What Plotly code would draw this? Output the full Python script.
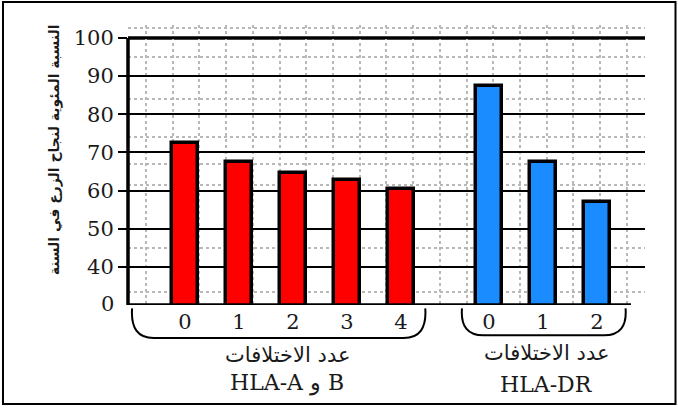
import plotly.graph_objects as go

# ---- data ----
hla_ab_labels = ["0", "1", "2", "3", "4"]
hla_ab_values = [72.5, 67.5, 64.5, 62.8, 60.5]
hla_dr_labels = ["0", "1", "2"]
hla_dr_values = [87.5, 67.6, 57.0]
y_tick_values = [40, 50, 60, 70, 80, 90, 100]
y_axis_floor_label = "0"
group_caption = "عدد الاختلافات"
group_ab_name = "HLA-A و B"
group_dr_name = "HLA-DR"
y_title = "النسبة المئوية لنجاح الزرع في السنة"

# ---- layout helpers ----
group_gap = 1.63
ab_x = [i for i in range(len(hla_ab_values))]
dr_x = [len(hla_ab_values) - 1 + group_gap + i for i in range(len(hla_dr_values))]
Y_FLOOR = 30          # axis break: "0" is drawn where 30 would be
Y_TOP = 103.4
X_MIN, X_MAX = -1.056, 8.52

serif = "DejaVu Serif"
arab = "DejaVu Sans"
ink = "#1a1a1a"

fig = go.Figure()
fig.add_trace(go.Bar(x=ab_x, y=hla_ab_values, width=0.48,
                     marker=dict(color="#ff0000", line=dict(color="black", width=3.5)),
                     showlegend=False, hoverinfo="skip"))
fig.add_trace(go.Bar(x=dr_x, y=hla_dr_values, width=0.48,
                     marker=dict(color="#1a8cff", line=dict(color="black", width=3.5)),
                     showlegend=False, hoverinfo="skip"))

shapes = []
shapes.append(dict(type="line", xref="paper", yref="y", x0=0, x1=0, y0=Y_FLOOR, y1=100,
                   line=dict(color="black", width=3.5), layer="above"))
shapes.append(dict(type="line", xref="x", yref="y", x0=X_MIN, x1=dr_x[-1] + 0.63,
                   y0=Y_FLOOR, y1=Y_FLOOR, line=dict(color="black", width=3.5), layer="above"))
shapes.append(dict(type="line", xref="paper", yref="y", x0=0, x1=1, y0=100, y1=100,
                   line=dict(color="black", width=3.5), layer="below"))

def bracket(xa, xb, yt, yb, r):
    return (f"M {xa},{yt} Q {xa-0.04},{yb} {xa+r},{yb} "
            f"L {xb-r},{yb} Q {xb+0.04},{yb} {xb},{yt}")

shapes.append(dict(type="path", xref="x", yref="paper",
                   path=bracket(ab_x[0] - 0.98, ab_x[-1] + 0.45, -0.012, -0.118, 0.4),
                   line=dict(color="black", width=2)))
shapes.append(dict(type="path", xref="x", yref="paper",
                   path=bracket(dr_x[0] - 0.5, dr_x[-1] + 0.53, -0.012, -0.108, 0.4),
                   line=dict(color="black", width=2)))
shapes.append(dict(type="rect", xref="paper", yref="paper",
                   x0=-0.2418, x1=1.059, y0=-0.3536, y1=1.082,
                   line=dict(color="black", width=2)))

annotations = [
    dict(x=0, xref="paper", y=Y_FLOOR, yref="y", text=y_axis_floor_label, showarrow=False,
         xanchor="right", yanchor="middle", xshift=-12, yshift=1,
         font=dict(family=serif, size=21, color=ink)),
    dict(x=-0.162, xref="paper", y=0.555, yref="paper", text=f"<b>{y_title}</b>",
         textangle=-90, showarrow=False, font=dict(family=arab, size=14, color=ink)),
    dict(x=1.89, xref="x", y=-0.175, yref="paper", text=group_caption, showarrow=False,
         yanchor="middle", yshift=-1,
         font=dict(family=arab, size=21, color=ink)),
    dict(x=1.89, xref="x", y=-0.272, yref="paper", text=group_ab_name, showarrow=False,
         yanchor="middle", yshift=-2,
         font=dict(family=serif, size=22, color=ink)),
    dict(x=6.70, xref="x", y=-0.168, yref="paper", text=group_caption, showarrow=False,
         yanchor="middle", yshift=-1,
         font=dict(family=arab, size=21, color=ink)),
    dict(x=6.70, xref="x", y=-0.275, yref="paper", text=group_dr_name, showarrow=False,
         yanchor="middle", yshift=-2,
         font=dict(family=serif, size=22, color=ink)),
]

fig.update_layout(
    width=678, height=410,
    margin=dict(l=128, r=33, t=25, b=105),
    paper_bgcolor="white", plot_bgcolor="white",
    shapes=shapes, annotations=annotations,
    bargap=0,
    xaxis=dict(range=[X_MIN, X_MAX], tickvals=ab_x + dr_x, ticktext=hla_ab_labels + hla_dr_labels,
               showgrid=False, zeroline=False, showline=False, ticks="",
               ticklabelstandoff=2,
               tickfont=dict(family=serif, size=21, color=ink),
               minor=dict(tick0=-0.722, dtick=0.4947, showgrid=True, griddash="dot",
                          gridcolor="#b8b8b8", gridwidth=2, ticks="")),
    yaxis=dict(range=[Y_FLOOR, Y_TOP], tickvals=y_tick_values,
               ticktext=[str(v) for v in y_tick_values],
               showgrid=True, gridcolor="black", gridwidth=2,
               zeroline=False, showline=False,
               ticks="outside", ticklen=9, tickwidth=2, tickcolor="black",
               tickfont=dict(family=serif, size=21, color=ink),
               minor=dict(tickvals=[102.5, 95, 84, 74, 67, 61.5, 45, 33.5], showgrid=True,
                          griddash="dot", gridcolor="#b8b8b8", gridwidth=2, ticks="")),
)

fig.write_html("out.html", config={"displayModeBar": False},
               post_script="document.body.style.margin='0px';")
